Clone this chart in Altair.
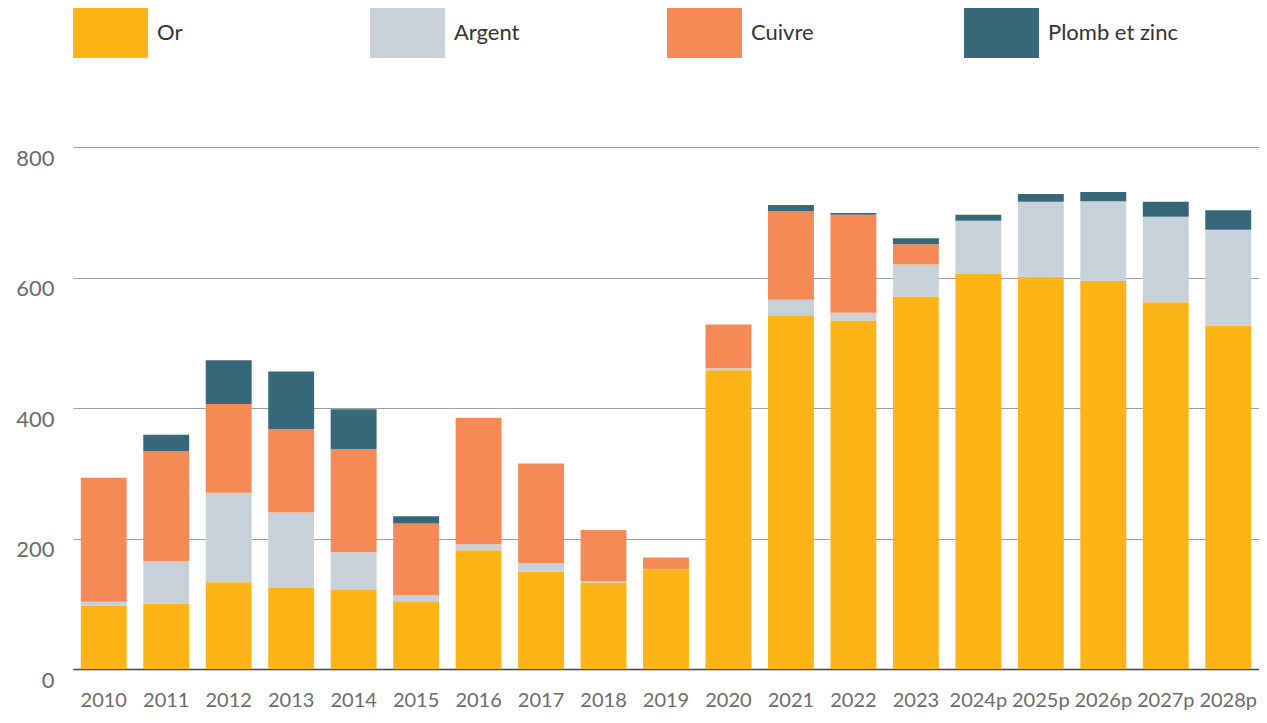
import altair as alt
import pandas as pd

years = ["2010", "2011", "2012", "2013", "2014", "2015", "2016", "2017", "2018", "2019",
         "2020", "2021", "2022", "2023", "2024p", "2025p", "2026p", "2027p", "2028p"]
metals = ["Or", "Argent", "Cuivre", "Plomb et zinc"]
colors = ["#FDB416", "#C8D1D9", "#F68A57", "#37687A"]

or_vals = [97, 100, 133, 124, 121, 104, 182, 149, 132, 152, 458, 542, 534, 571, 606, 601, 595, 562, 526]
argent_vals = [6, 65, 137, 116, 58, 9, 9, 13, 2, 1, 3, 24, 12, 49, 81, 115, 122, 131, 147]
cuivre_vals = [190, 169, 136, 128, 158, 110, 194, 153, 79, 18, 67, 136, 150, 31, 0, 0, 0, 0, 0]
plomb_vals = [0, 25, 67, 88, 61, 11, 0, 0, 0, 0, 0, 9, 3, 9, 9, 12, 14, 23, 30]

series = [or_vals, argent_vals, cuivre_vals, plomb_vals]
rows = []
for mi, (m, vals) in enumerate(zip(metals, series)):
    for y, v in zip(years, vals):
        rows.append({"year": y, "metal": m, "value": v, "ord": mi})
df = pd.DataFrame(rows)

FONT = "Lato"

chart = alt.Chart(df).mark_bar().encode(
    x=alt.X("year:N", sort=years,
            scale=alt.Scale(paddingInner=0.265, paddingOuter=0.125),
            axis=alt.Axis(title=None, labelAngle=0, ticks=False, domain=True,
                          domainColor="#444444", domainWidth=1.5,
                          labelFontSize=20, labelColor="#6b6b6b", labelFont=FONT,
                          labelPadding=21, labelBaseline="top", grid=False)),
    y=alt.Y("value:Q", stack="zero",
            scale=alt.Scale(domain=[0, 800], nice=False),
            axis=alt.Axis(title=None, values=[0, 200, 400, 600, 800], ticks=False,
                          domain=False, grid=True, gridColor="#9e9e9e", gridWidth=1,
                          labelFontSize=22, labelColor="#6b6b6b", labelFont=FONT,
                          labelPadding=19, labelOffset=11)),
    color=alt.Color("metal:N",
                    scale=alt.Scale(domain=metals, range=colors),
                    legend=alt.Legend(title=None, orient="none", legendX=0, legendY=-139,
                                      direction="horizontal", columns=4, gridAlign="all",
                                      columnPadding=83, padding=0,
                                      symbolType="M-1,-1H2V1H-1Z", symbolSize=2500,
                                      symbolStrokeWidth=0, symbolOpacity=1,
                                      labelOffset=34, labelFontSize=22, labelFont=FONT,
                                      labelColor="#333333", labelLimit=300)),
    order=alt.Order("ord:Q", sort="ascending"),
).properties(
    width=1186, height=522, autosize="none",
    padding={"left": 65, "top": 139, "right": 0, "bottom": 42},
).configure_view(stroke=None)

chart.save("out.html", embed_options={"renderer": "svg", "actions": False})
